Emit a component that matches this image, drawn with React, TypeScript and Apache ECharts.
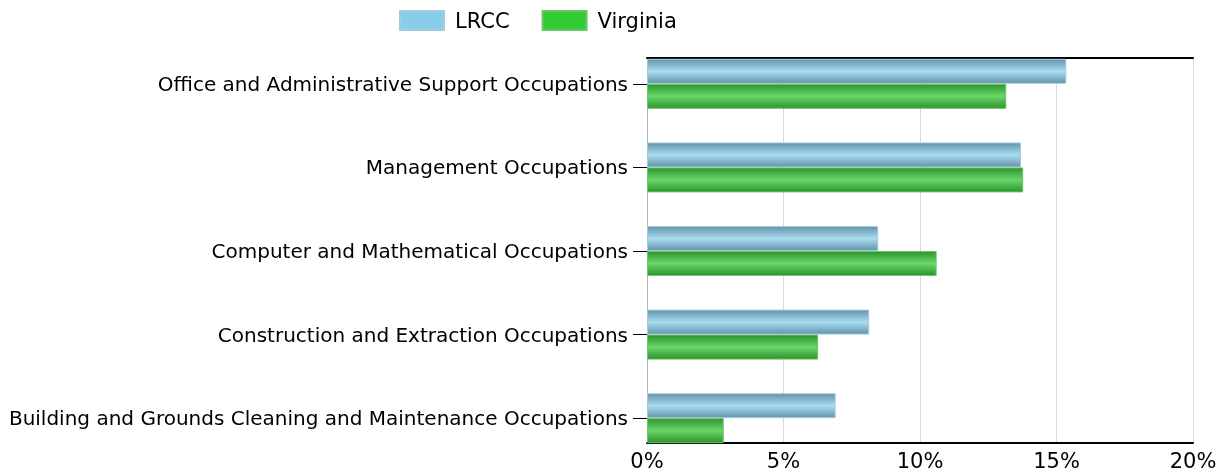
import React, { useEffect, useRef } from "react";
import * as echarts from "echarts";

const categories = [
  "Office and Administrative Support Occupations",
  "Management Occupations",
  "Computer and Mathematical Occupations",
  "Construction and Extraction Occupations",
  "Building and Grounds Cleaning and Maintenance Occupations",
];
const lrccValues = [15.36, 13.7, 8.47, 8.14, 6.91];
const virginiaValues = [13.16, 13.78, 10.61, 6.27, 2.81];
const seriesNames = ["LRCC", "Virginia"];
const xTicks = [0, 5, 10, 15, 20];

const FONT = "'DejaVu Sans', sans-serif";

export default function App() {
  const ref = useRef<HTMLDivElement>(null);
  useEffect(() => {
    if (!ref.current) return;
    const chart = echarts.init(ref.current, undefined, { renderer: "svg" });
    const grad = (edge: string, mid: string) =>
      new echarts.graphic.LinearGradient(0, 0, 0, 1, [
        { offset: 0, color: edge },
        { offset: 0.5, color: mid },
        { offset: 1, color: edge },
      ]);
    chart.setOption({
      animation: false,
      textStyle: { fontFamily: FONT },
      legend: {
        left: 394,
        top: 5,
        itemWidth: 44,
        itemHeight: 19,
        itemGap: 32,
        icon: "rect",
        textStyle: {
          fontSize: 21,
          color: "#000",
          fontFamily: FONT,
          padding: [0, 0, 0, 6],
        },
        data: [
          { name: seriesNames[0], itemStyle: { color: "#87CEEB" } },
          { name: seriesNames[1], itemStyle: { color: "#32CD32" } },
        ],
      },
      grid: [
        { left: 647, right: 36, top: 42, bottom: 15 },
        { left: 647, right: 36, top: 58, bottom: 32 },
      ],
      xAxis: [
        { gridIndex: 0, type: "value", min: 0, max: 20, show: false },
        {
          gridIndex: 1,
          type: "value",
          position: "bottom",
          min: xTicks[0],
          max: xTicks[xTicks.length - 1],
          interval: 5,
          axisLine: { show: true, lineStyle: { color: "#000", width: 2 } },
          axisTick: { show: false },
          axisLabel: {
            formatter: "{value}%",
            fontSize: 21,
            color: "#000",
            fontFamily: FONT,
            margin: 7,
          },
          splitLine: { show: true, lineStyle: { color: "#d6d6f0", width: 1 } },
        },
        {
          gridIndex: 1,
          type: "value",
          position: "top",
          min: 0,
          max: 20,
          axisLine: { show: true, lineStyle: { color: "#000", width: 2 } },
          axisTick: { show: false },
          axisLabel: { show: false },
          splitLine: { show: false },
        },
      ],
      yAxis: [
        {
          gridIndex: 0,
          type: "category",
          inverse: true,
          data: categories,
          axisLine: { show: false },
          axisTick: {
            show: true,
            alignWithLabel: true,
            length: 14,
            lineStyle: { color: "#000", width: 1 },
          },
          axisLabel: {
            fontSize: 20,
            color: "#000",
            fontFamily: FONT,
            margin: 19,
          },
        },
        {
          gridIndex: 1,
          type: "value",
          min: 0,
          max: 1,
          axisLine: { show: true, lineStyle: { color: "#b0b0c8", width: 1 } },
          axisTick: { show: false },
          axisLabel: { show: false },
          splitLine: { show: false },
        },
      ],
      series: [
        {
          name: seriesNames[0],
          type: "bar",
          xAxisIndex: 0,
          yAxisIndex: 0,
          data: lrccValues,
          barWidth: 25,
          barGap: "0%",
          itemStyle: {
            color: grad("#6394ab", "#aadcf0"),
            borderColor: "#a6cbdc",
            borderWidth: 1,
          },
        },
        {
          name: seriesNames[1],
          type: "bar",
          xAxisIndex: 0,
          yAxisIndex: 0,
          data: virginiaValues,
          barWidth: 25,
          barGap: "0%",
          itemStyle: {
            color: grad("#2c942c", "#6ad66a"),
            borderColor: "#6ac46a",
            borderWidth: 1,
          },
        },
      ],
    });
    return () => chart.dispose();
  }, []);
  return (
    <div
      ref={ref}
      style={{ position: "fixed", left: 0, top: 0, width: 1229, height: 475 }}
    />
  );
}
